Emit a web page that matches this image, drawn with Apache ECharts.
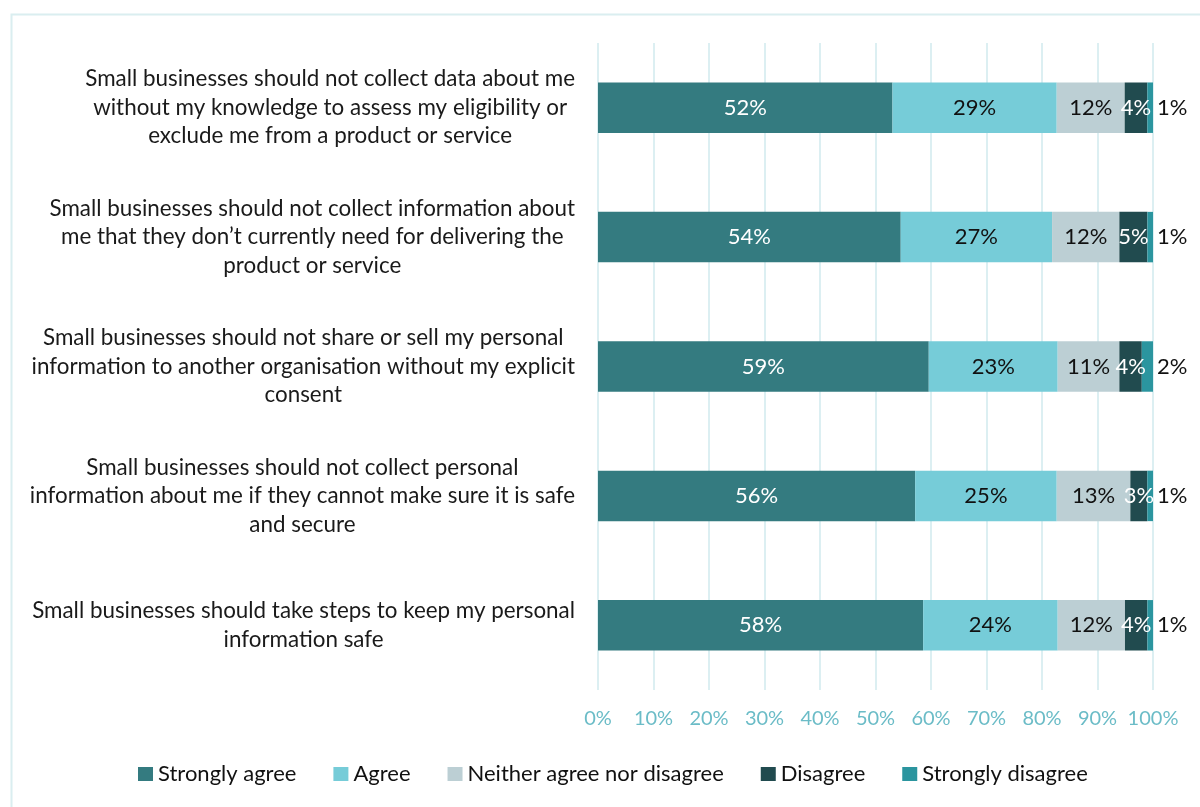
<!DOCTYPE html>
<html><head><meta charset="utf-8">
<script src="https://cdn.jsdelivr.net/npm/echarts@6/dist/echarts.min.js"></script>
<style>html,body{margin:0;padding:0;background:#fff}#c{width:1200px;height:807px}</style>
</head><body><div id="c"></div>
<script>
const categories = [
  "Small businesses should not collect data about me\nwithout my knowledge to assess my eligibility or\nexclude me from a product or service",
  "Small businesses should not collect information about\nme that they don\u2019t currently need for delivering the\nproduct or service",
  "Small businesses should not share or sell my personal\ninformation to another organisation without my explicit\nconsent",
  "Small businesses should not collect personal\ninformation about me if they cannot make sure it is safe\nand secure",
  "Small businesses should take steps to keep my personal\ninformation safe"
];
const seriesNames = ["Strongly agree","Agree","Neither agree nor disagree","Disagree","Strongly disagree"];
const stronglyAgree = [52,54,59,56,58];
const agree = [29,27,23,25,24];
const neither = [12,12,11,13,12];
const disagree = [4,5,4,3,4];
const stronglyDisagree = [1,1,2,1,1];
const tickLabels = ["0%","10%","20%","30%","40%","50%","60%","70%","80%","90%","100%"];

const colors = ["#347B80","#76CCD8","#BCCFD4","#214B4F","#2B959F"];
const labelColors = ["#ffffff","#111111","#111111","#ffffff","#111111"];
const raw = [stronglyAgree, agree, neither, disagree, stronglyDisagree];
const totals = categories.map((_, i) => raw.reduce((s, a) => s + a[i], 0));
const FONT = "Lato";

const series = raw.map((arr, k) => ({
  name: seriesNames[k],
  type: 'bar',
  stack: 'total',
  barCategoryGap: '61%',
  itemStyle: {color: colors[k]},
  data: arr.map((v, i) => ({value: v / totals[i] * 100, raw: v})),
  label: {
    show: true,
    position: k === 4 ? 'right' : 'inside',
    distance: 4,
    color: labelColors[k],
    fontFamily: FONT, fontSize: 22,
    formatter: p => p.data.raw + '%'
  }
}));

const chart = echarts.init(document.getElementById('c'), null, {renderer: 'canvas'});
chart.setOption({
  animation: false,
  color: colors,
  graphic: [{type: 'rect', shape: {x: 11.5, y: 14.5, width: 1250, height: 850},
    style: {fill: 'none', stroke: '#DAEEF0', lineWidth: 2}, silent: true, z: -1}],
  grid: {left: 598, right: 47, top: 43, bottom: 117, containLabel: false},
  xAxis: {
    type: 'value', min: 0, max: 100, interval: 10,
    axisLine: {show: false}, axisTick: {show: false},
    splitLine: {show: true, lineStyle: {color: '#DCEFF2', width: 2}},
    axisLabel: {color: '#6BBCC7', fontFamily: FONT, fontSize: 20, margin: 19,
      formatter: v => tickLabels[Math.round(v / 10)]}
  },
  yAxis: {
    type: 'category', data: categories, inverse: true,
    axisLine: {show: false}, axisTick: {show: false},
    axisLabel: {color: '#1a1a1a', fontFamily: FONT, fontSize: 22.4, lineHeight: 28.5,
      align: 'right', margin: 23,
      formatter: v => v.split('\n').map(l => '{c|' + l + '}').join('\n'),
      rich: {c: {align: 'center', fontFamily: FONT, fontSize: 22.4, lineHeight: 28.5, color: '#1a1a1a'}}}
  },
  legend: {
    bottom: 17, left: 133, itemWidth: 15, itemHeight: 14, itemGap: 37,
    itemTextGap: 4,
    icon: 'rect',
    textStyle: {color: '#111', fontFamily: FONT, fontSize: 22},
    data: seriesNames
  },
  series
});
</script></body></html>
